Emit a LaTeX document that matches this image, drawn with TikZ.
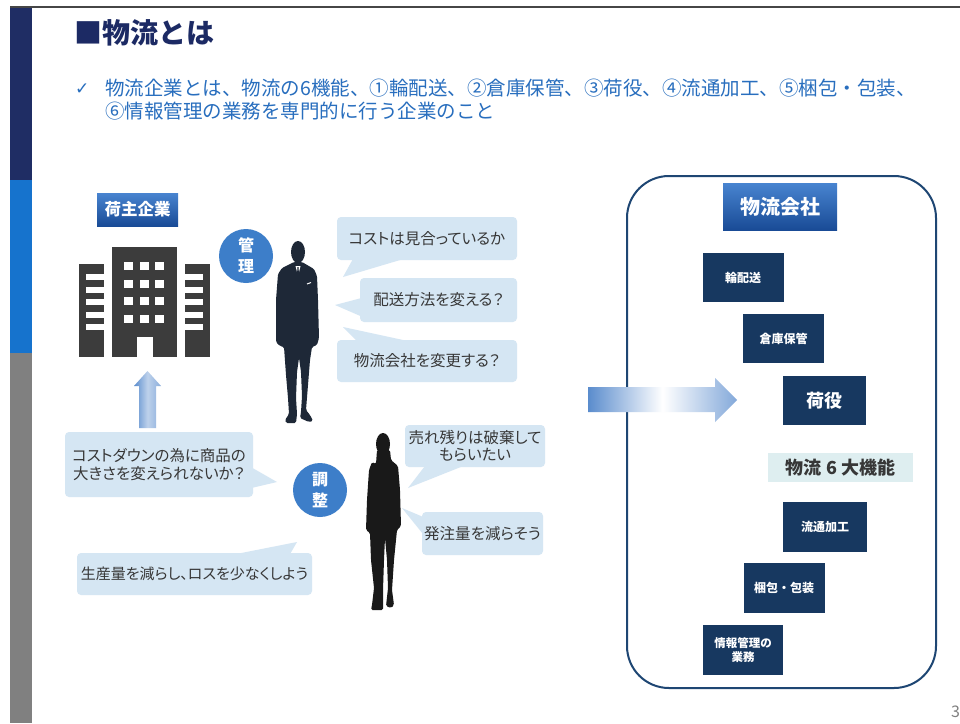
\documentclass[tikz,border=0pt]{standalone}
\usepackage{fontspec}
\setmainfont{Noto Sans CJK JP}
\newfontfamily\bubblefont{Noto Sans CJK JP}[RawFeature=+palt]
\newfontfamily\symfont{DejaVu Sans}
\usetikzlibrary{calc}

\definecolor{sidenavy}{RGB}{31,45,100}
\definecolor{sideblue}{RGB}{22,115,205}
\definecolor{sidegray}{RGB}{128,128,128}
\definecolor{rulegray}{RGB}{70,70,70}
\definecolor{titlenavy}{RGB}{28,42,100}
\definecolor{introblue}{RGB}{40,110,190}
\definecolor{bubblefill}{RGB}{213,230,243}
\definecolor{textgray}{RGB}{55,55,55}
\definecolor{circblue}{RGB}{61,126,201}
\definecolor{hdrtop}{RGB}{72,132,208}
\definecolor{hdrbot}{RGB}{25,75,150}
\definecolor{fnnavy}{RGB}{23,56,96}
\definecolor{framenavy}{RGB}{30,70,115}
\definecolor{labelbg}{RGB}{222,238,240}
\definecolor{bldgray}{RGB}{60,60,60}
\definecolor{mancolor}{RGB}{30,40,55}
\definecolor{womancolor}{RGB}{25,25,25}
\definecolor{arrowblue}{RGB}{90,140,205}

\begin{document}
\begin{tikzpicture}[x=1pt, y=-1pt,
    bubble/.style={fill=bubblefill, rounded corners=4pt, inner sep=0pt, text=textgray, align=center,
        font=\bubblefont\fontsize{15.5}{18}\selectfont},
    tail/.style={fill=bubblefill},
    badge/.style={circle, fill=circblue, text=white, inner sep=0pt, minimum size=54pt, align=center,
        font=\fontsize{16}{21}\selectfont\bfseries},
    header/.style={top color=hdrtop, bottom color=hdrbot, text=white, inner sep=0pt},
    func/.style={fill=fnnavy, text=white, inner sep=0pt, minimum width=81pt, minimum height=49pt, align=center,
        font=\fontsize{12}{14}\selectfont\bfseries}]
    \useasboundingbox (0,0) rectangle (960,723);
    \fill[white] (0,0) rectangle (960,723);

    % side bar and top rule
    \fill[sidenavy] (10,7) rectangle (32,180);
    \fill[sideblue] (10,180) rectangle (32,353);
    \fill[sidegray] (10,353) rectangle (32,723);
    \draw[line width=1.5pt, rulegray] (10,7) -- (960,7);

    % heading
    \node[anchor=west, inner sep=0pt, text=titlenavy, font=\fontsize{28}{32}\selectfont\bfseries] (title) at (74,33) {■物流とは};
    \node[anchor=west, inner sep=0pt, text=introblue, font=\symfont\fontsize{17}{20}\selectfont] (tick) at (75,89) {✓};
    \node[anchor=north west, inner sep=0pt, text=introblue, align=left, font=\fontsize{19.5}{23}\selectfont] (intro) at (105,79)
        {物流企業とは、物流の6機能、①輪配送、②倉庫保管、③荷役、④流通加工、⑤梱包・包装、\\⑥情報管理の業務を専門的に行う企業のこと};

    % shipper and its building
    \node[header, minimum width=81pt, minimum height=33pt, font=\fontsize{16.5}{18}\selectfont\bfseries] (shipper) at (137.5,209.5) {荷主企業};
    \fill[bldgray] (112,247) rectangle (177,357);
    \fill[bldgray] (79,264) rectangle (104,357);
    \fill[bldgray] (185,264) rectangle (210,357);
    \foreach \r in {0,...,3} {
        \foreach \c in {0,1,2} {
            \fill[white] (124+\c*15.5,262+\r*17.7) rectangle +(9,8);
        }
    }
    \foreach \b in {0,...,4} {
        %% wing slats, open towards the tower
        \fill[white] (86,274+\b*12.5) rectangle (104.5,280+\b*12.5);
        \fill[white] (184.5,274+\b*12.5) rectangle (203,280+\b*12.5);
    }
    \fill[white] (137,337) rectangle (153,357.5);

    \shade[left color=arrowblue, right color=arrowblue!70, middle color=white!60!arrowblue]
        (139,428) -- (139,386) -- (134,386) -- (147.5,371) -- (161,386) -- (156,386) -- (156,428) -- cycle;

    % manager
    \node[badge] (kanri) at (246,256) {管\\理};
    \fill[mancolor] (298,252) ellipse (7 and 11);
    \fill[mancolor, rounded corners=1.5pt] (294,262) -- (282,268) -- (278,274) -- (276,300) -- (276,342) -- (280,346)
        -- (284,347) -- (286,375) -- (288,398) -- (289,414) -- (285,420) -- (286,423) -- (296,423) -- (297,414)
        -- (296,398) -- (297,372) -- (299,358) -- (301,372) -- (302,396) -- (301,412) -- (300,418) -- (309,422)
        -- (313,421) -- (310,415) -- (306,410) -- (308,385) -- (310,360) -- (312,347) -- (317,345) -- (319,338)
        -- (318,300) -- (317,276) -- (314,269) -- (302,262) -- cycle;
    \fill[white] (295.5,266) -- (300.5,266) -- (298,276) -- cycle;
    \fill[mancolor] (297.4,267) -- (298.6,267) -- (299.2,282) -- (298,285) -- (296.8,282) -- cycle;
    \draw[white, line width=1pt] (307,284) -- (311,282.5);

    \coordinate (tipa) at (343,277);
    \coordinate (tipb) at (335,305);
    \coordinate (tipc) at (343,327);
    \node[bubble, minimum width=180pt, minimum height=43pt] (cost) at (427,238.5) {コストは見合っているか};
    \node[bubble, minimum width=157pt, minimum height=44pt] (method) at (438.5,300) {配送方法を変える？};
    \node[bubble, minimum width=180pt, minimum height=42pt] (change) at (427,361) {物流会社を変更する？};
    \fill[tail] ($(cost.south west)+(16,-1)$) -- (tipa) -- ($(cost.south west)+(66,-1)$) -- cycle;
    \fill[tail] ($(method.south west)+(1,-6)$) -- (tipb) -- ($(method.south west)+(1,-24)$) -- cycle;
    \fill[tail] ($(change.north west)+(20,1)$) -- (tipc) -- ($(change.north west)+(70,1)$) -- cycle;

    % coordinator
    \node[badge] (chousei) at (320,490) {調\\整};
    \fill[womancolor] (383,444) ellipse (7 and 11);
    \fill[womancolor, rounded corners=1.5pt] (377,450) -- (376,464) -- (372,462) -- (369,470) -- (367,500) -- (366,530)
        -- (370,533) -- (371,560) -- (374,588) -- (372,605) -- (371,610) -- (383,610) -- (383,590) -- (384,560)
        -- (385,538) -- (387,560) -- (388,588) -- (386,606) -- (391,608) -- (394,605) -- (392,590) -- (394,560)
        -- (397,530) -- (401,526) -- (400,490) -- (398,466) -- (391,460) -- (390,450) -- cycle;

    \coordinate (tipd) at (277,482);
    \coordinate (tipe) at (408,488);
    \coordinate (tipf) at (402,508);
    \coordinate (tipg) at (297,542);
    \node[bubble, minimum width=188pt, minimum height=65pt] (size) at (159,464.5) {コストダウンの為に商品の\\大きさを変えられないか？};
    \node[bubble, minimum width=140pt, minimum height=42pt, font=\bubblefont\fontsize{15.5}{17}\selectfont] (unsold) at (475,446) {売れ残りは破棄して\\もらいたい};
    \node[bubble, minimum width=121pt, minimum height=43pt] (order) at (482.5,533.5) {発注量を減らそう};
    \node[bubble, minimum width=235pt, minimum height=42pt, font=\bubblefont\fontsize{15}{18}\selectfont] (loss) at (194.5,574) {生産量を減らし、ロスを少なくしよう};
    \fill[tail] ($(size.north east)+(-1,36)$) -- (tipd) -- ($(size.north east)+(-1,56)$) -- cycle;
    \fill[tail] ($(unsold.south west)+(20,-1)$) -- (tipe) -- ($(unsold.south west)+(58,-1)$) -- cycle;
    \fill[tail] ($(order.north west)+(1,5)$) -- (tipf) -- ($(order.north west)+(1,22)$) -- cycle;
    \fill[tail] ($(loss.north east)+(-75,1)$) -- (tipg) -- ($(loss.north east)+(-22,1)$) -- cycle;

    % logistics company
    \node[draw=framenavy, line width=2pt, rounded corners=42pt, minimum width=309pt, minimum height=512pt, inner sep=0pt] (frame) at (781.5,432) {};
    \node[header, minimum width=114pt, minimum height=47pt, font=\fontsize{20}{24}\selectfont\bfseries] (company) at (780,206.5) {物流会社};
    \node[func] (haisou) at (743,277.5) {輪配送};
    \node[func] (souko) at (783.5,338.5) {倉庫保管};
    \node[func, minimum width=83pt, font=\fontsize{18}{20}\selectfont\bfseries] (niyaku) at (824.5,400.5) {荷役};
    \node[fill=labelbg, text=textgray, inner sep=0pt, minimum width=145pt, minimum height=29pt, font=\fontsize{18}{20}\selectfont\bfseries] (six) at (840.5,467.5) {物流 6 大機能};
    \node[func, minimum width=84pt, minimum height=50pt] (kakou) at (825,527) {流通加工};
    \node[func, minimum height=50pt] (konpou) at (784,588) {梱包・包装};
    \node[func, minimum width=80pt, minimum height=50pt, font=\fontsize{11.5}{14}\selectfont\bfseries] (jouhou) at (743,650) {情報管理の\\業務};

    \shade[left color=arrowblue, right color=arrowblue!75, middle color=white]
        (588,387) -- (715,387) -- (715,378) -- (737,400) -- (715,422) -- (715,412) -- (588,412) -- cycle;

    \node[anchor=west, inner sep=0pt, text=sidegray, font=\fontsize{16}{18}\selectfont] (page) at (951,712) {3};
\end{tikzpicture}
\end{document}
